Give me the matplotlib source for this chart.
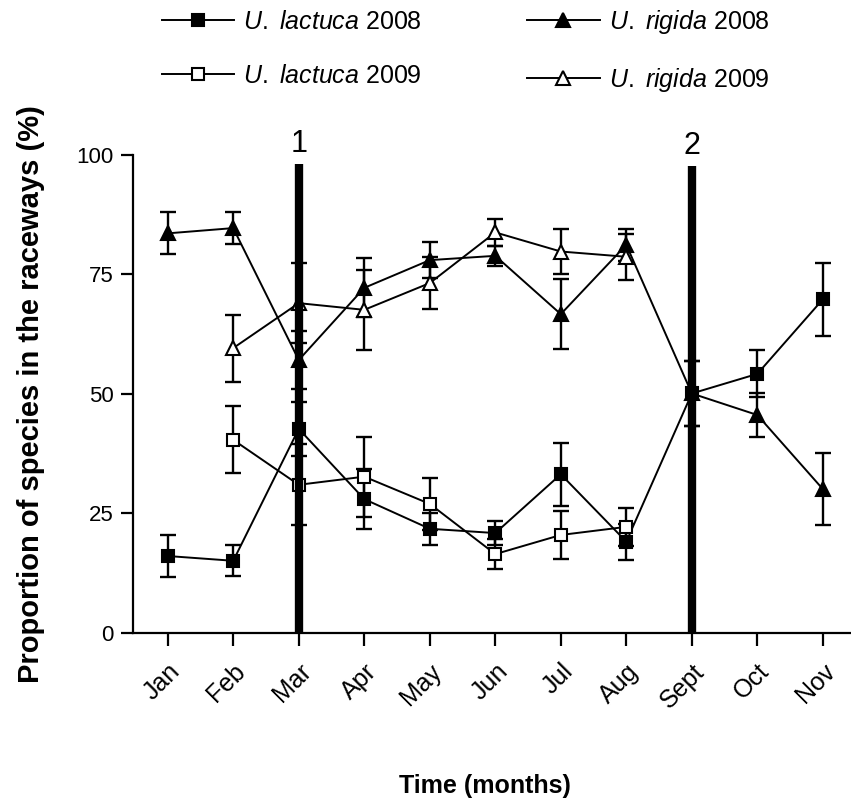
import matplotlib.pyplot as plt

plt.rcParams.update({
    'font.family': 'Liberation Sans',
    'mathtext.fontset': 'custom',
    'mathtext.rm': 'Liberation Sans',
    'mathtext.it': 'Liberation Sans:italic',
    'axes.linewidth': 1.6,
})

months = ['Jan', 'Feb', 'Mar', 'Apr', 'May', 'Jun', 'Jul', 'Aug', 'Sept', 'Oct', 'Nov']

# 2008: Jan-Nov
lact08 = [16.1, 15.1, 42.7, 28.0, 21.8, 20.9, 33.2, 19.1, 50.1, 54.2, 69.8]
lact08_err = [4.3, 3.2, 5.7, 6.3, 3.3, 2.5, 6.6, 3.8, 6.7, 4.9, 7.6]
rig08 = [83.6, 84.7, 57.1, 72.2, 78.0, 78.9, 66.7, 81.2, 50.1, 45.6, 30.1]
rig08_err = [4.4, 3.3, 6.0, 6.2, 3.7, 2.1, 7.3, 3.3, 6.7, 4.5, 7.5]

# 2009: Feb-Aug
months09 = ['Feb', 'Mar', 'Apr', 'May', 'Jun', 'Jul', 'Aug']
lact09 = [40.4, 31.0, 32.7, 27.0, 16.5, 20.5, 22.2]
lact09_err = [7.0, 8.5, 8.4, 5.4, 3.2, 5.0, 4.0]
rig09 = [59.6, 69.0, 67.6, 73.2, 83.8, 79.8, 78.7]
rig09_err = [7.0, 8.4, 8.4, 5.5, 2.8, 4.7, 4.8]

# management events
event_months = ['Mar', 'Sept']
event_labels = ['1', '2']
event_top = [98.2, 97.7]

x08 = list(range(len(months)))
x09 = [months.index(m) for m in months09]

fig = plt.figure(figsize=(8.51, 8.05), dpi=100)
ax = fig.add_axes([0.1563, 0.2137, 0.8437, 0.5938])

series = [
    (x08, lact08, lact08_err, 's', 9, 'black', r'$\it{U.\ lactuca}$ 2008'),
    (x09, lact09, lact09_err, 's', 9, 'white', r'$\it{U.\ lactuca}$ 2009'),
    (x08, rig08, rig08_err, '^', 10, 'black', r'$\it{U.\ rigida}$ 2008'),
    (x09, rig09, rig09_err, '^', 10, 'white', r'$\it{U.\ rigida}$ 2009'),
]

handles = []
for xs, ys, es, mk, ms, fc, lab in series:
    ax.errorbar(xs, ys, yerr=es, fmt='none', ecolor='black', elinewidth=1.7,
                capsize=6, capthick=1.7, zorder=3)
    ln, = ax.plot(xs, ys, color='black', lw=1.4, marker=mk, markersize=ms,
                  markerfacecolor=fc, markeredgecolor='black', markeredgewidth=1.5,
                  label=lab, zorder=4)
    handles.append(ln)

for m, lab, top in zip(event_months, event_labels, event_top):
    xi = months.index(m)
    ax.vlines(xi, 0, top, color='black', lw=6, zorder=5)
    ax.text(xi, top + 2.4, lab, ha='center', va='baseline', fontsize=22,
            clip_on=False)

ax.set_xlim(-0.53, 10.43)
ax.set_ylim(0, 100)
ax.set_yticks([0, 25, 50, 75, 100])
ax.set_xticks(x08)
ax.set_xticklabels(months, rotation=45, ha='right', rotation_mode='anchor')
ax.tick_params(axis='both', direction='out', length=9, width=1.6)
ax.tick_params(axis='x', pad=10, labelsize=18)
ax.tick_params(axis='y', pad=5, labelsize=16)
for s in ['top', 'right']:
    ax.spines[s].set_visible(False)

ax.set_ylabel('Proportion of species in the raceways (%)', fontsize=21,
              fontweight='bold')
ax.yaxis.set_label_coords(-0.123, 0.5)
fig.text(0.57, 0.024, 'Time (months)', ha='center', va='center', fontsize=18,
         fontweight='bold')

fig.legend(handles=handles, loc='upper left', bbox_to_anchor=(0.19, 0.99),
           ncol=2, frameon=False, fontsize=18, handlelength=2.9,
           handletextpad=0.36, labelspacing=1.2, columnspacing=4.2,
           borderpad=0, borderaxespad=0)

fig.savefig('out.png', dpi=100)
